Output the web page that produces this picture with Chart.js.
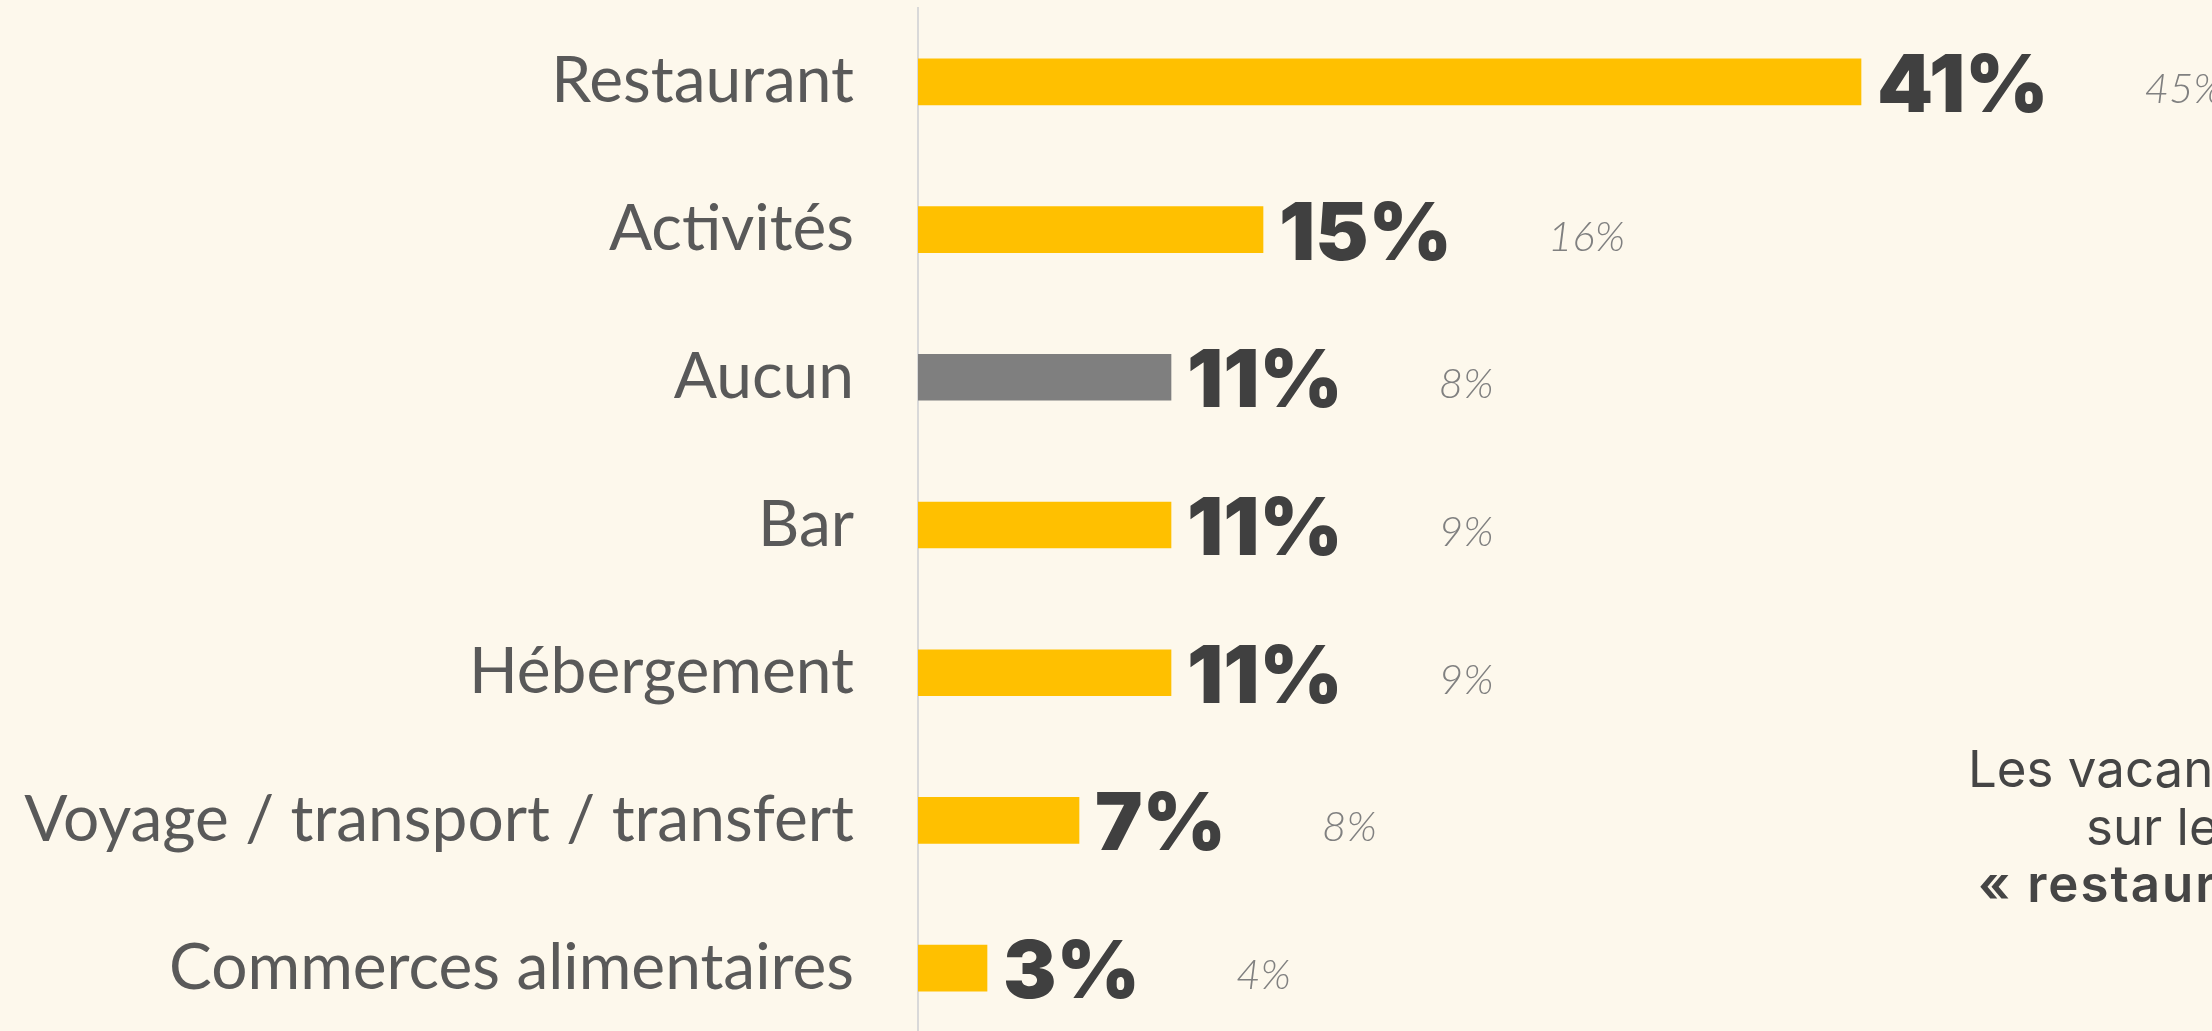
<!DOCTYPE html>
<html>
<head>
<meta charset="utf-8">
<script src="https://cdn.jsdelivr.net/npm/chart.js@4.4.1/dist/chart.umd.min.js"></script>
<style>
  html, body { margin: 0; padding: 0; background: #fdf8ec; overflow: hidden; }
  #wrap { position: relative; width: 2212px; height: 1042px; }
</style>
</head>
<body>
<div id="wrap"><canvas id="chart"></canvas></div>
<script>
const categories = ['Restaurant', 'Activités', 'Aucun', 'Bar', 'Hébergement', 'Voyage / transport / transfert', 'Commerces alimentaires']
const values = [41, 15, 11, 11, 11, 7, 3]
const previousValues = [45, 16, 8, 9, 9, 8, 4]
const barColors = ['#ffc000', '#ffc000', '#7f7f7f', '#ffc000', '#ffc000', '#ffc000', '#ffc000']
const sideNote = ['Les vacan', 'sur le', '« restaur']

// value labels: big bold current value, small grey italic previous value
const valueLabels = {
  id: 'valueLabels',
  afterDatasetsDraw(chart) {
    const ctx = chart.ctx
    const meta = chart.getDatasetMeta(0)
    ctx.save()
    meta.data.forEach((bar, i) => {
      const txt = values[i] + '%'
      ctx.font = '900 80px Inter'
      ctx.fillStyle = '#404040'
      ctx.textAlign = 'left'
      ctx.textBaseline = 'alphabetic'
      const x = bar.x + 16
      ctx.fillText(txt, x, bar.y + 30)
      const w = ctx.measureText(txt).width

      ctx.font = 'italic 300 42px Lato'
      ctx.fillStyle = '#808080'
      ctx.fillText(previousValues[i] + '%', x + w + 96, bar.y + 21)
    })
    ctx.restore()
  },
  afterDraw(chart) {
    const ctx = chart.ctx
    ctx.save()
    ctx.fillStyle = '#454545'
    ctx.textAlign = 'left'
    ctx.font = '400 51px Inter'
    ctx.fillText(sideNote[0], 1968, 787)
    ctx.fillText(sideNote[1], 2086, 845)
    ctx.font = '600 51px Inter'
    ctx.letterSpacing = '2px'
    ctx.fillText(sideNote[2], 1978, 902)
    ctx.restore()
  }
}

const ctx = document.getElementById('chart')

new Chart(ctx, {
  type: 'bar',
  data: {
    labels: categories,
    datasets: [{
      data: values,
      backgroundColor: barColors,
      borderWidth: 0,
      barThickness: 46
    }]
  },
  options: {
    indexAxis: 'y',
    responsive: true,
    maintainAspectRatio: false,
    animation: false,
    layout: {
      padding: {top: 8, right: 6, bottom: 0, left: 0}
    },
    plugins: {
      legend: {display: false},
      tooltip: {enabled: false}
    },
    scales: {
      x: {
        display: false,
        min: 0,
        max: 56
      },
      y: {
        grid: {display: false, drawTicks: false},
        border: {display: true, color: '#d9d9d9', width: 2},
        ticks: {
          color: '#595959',
          padding: 64,
          font: {family: 'Lato', size: 64}
        },
        afterFit(scale) {
          scale.width = 918
          scale.paddingTop = 0
          scale.paddingBottom = 0
        }
      }
    }
  },
  plugins: [valueLabels]
})
</script>
</body>
</html>
